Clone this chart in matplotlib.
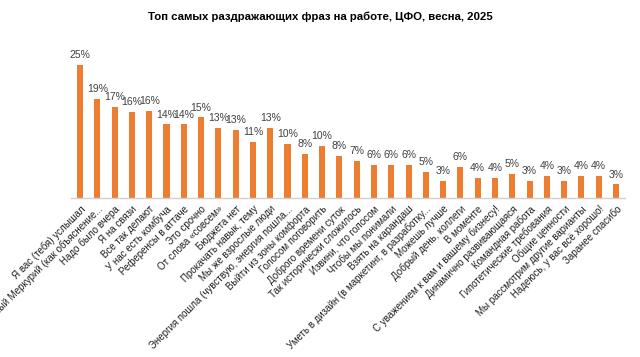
import matplotlib
matplotlib.use("Agg")
import matplotlib.pyplot as plt
import numpy as np

plt.rcParams['font.family'] = ['Liberation Sans', 'DejaVu Sans']

phrases = [
    "Я вас (тебя) услышал",
    "Ретроградный Меркурий (как объяснение...",
    "Надо было вчера",
    "Я на связи",
    "Все так делают",
    "У нас есть комбуча",
    "Референсы в аттаче",
    "Это срочно",
    "От слова «совсем»",
    "Бюджета нет",
    "Прокачать навык, тему",
    "Мы же взрослые люди",
    "Энергия пошла (чувствую, энергия пошла...",
    "Выйти из зоны комфорта",
    "Голосом поговорить",
    "Доброго времени суток",
    "Так исторически сложилось",
    "Извини, что голосом",
    "Чтобы мы понимали",
    "Взять на карандаш",
    "Уметь в дизайн (в маркетинг, в разработку...",
    "Можешь лучше",
    "Добрый день, коллеги",
    "В моменте",
    "С уважением к вам и вашему бизнесу!",
    "Динамично развивающаяся",
    "Командная работа",
    "Гипотетические требования",
    "Общие ценности",
    "Мы рассмотрим другие варианты",
    "Надеюсь, у вас всё хорошо!",
    "Заранее спасибо",
]
shares = [25.0, 18.7, 17.1, 16.2, 16.5, 13.9, 13.9, 15.2, 13.2, 12.8, 10.6, 13.2,
          10.2, 8.4, 9.8, 7.9, 7.0, 6.2, 6.2, 6.2, 4.9, 3.3, 5.9, 3.8, 3.8, 4.6,
          3.3, 4.2, 3.3, 4.2, 4.2, 2.6]

fig = plt.figure(figsize=(6.4, 3.57), dpi=100)
ax = fig.add_axes([0.1116, 0.4445, 0.8644, 0.4023])

x = np.arange(len(phrases))
ax.bar(x, shares, width=0.35, color="#ED7D31", zorder=2)

for xi, v in zip(x, shares):
    ax.annotate(f"{v:.0f}%", (xi, v), xytext=(0, 3.5), textcoords="offset points",
                ha="center", va="bottom", fontsize=7.5, color="#404040")

ax.set_xlim(-0.5, len(phrases) - 0.5)
ax.set_ylim(0, 27)
ax.set_yticks([])
ax.set_xticks(x)
ax.set_xticklabels(phrases, rotation=45, ha="right", rotation_mode="anchor",
                   fontsize=7, color="#202020")
ax.tick_params(axis="x", length=0, pad=4)
for s in ["top", "right", "left"]:
    ax.spines[s].set_visible(False)
ax.spines["bottom"].set_color("#D0D0D0")
ax.spines["bottom"].set_linewidth(1)

fig.text(0.5, 1 - 17 / 357, "Топ самых раздражающих фраз на работе, ЦФО, весна, 2025",
         ha="center", va="center", fontsize=8.2, fontweight="bold")

fig.savefig("out.png", dpi=100)
